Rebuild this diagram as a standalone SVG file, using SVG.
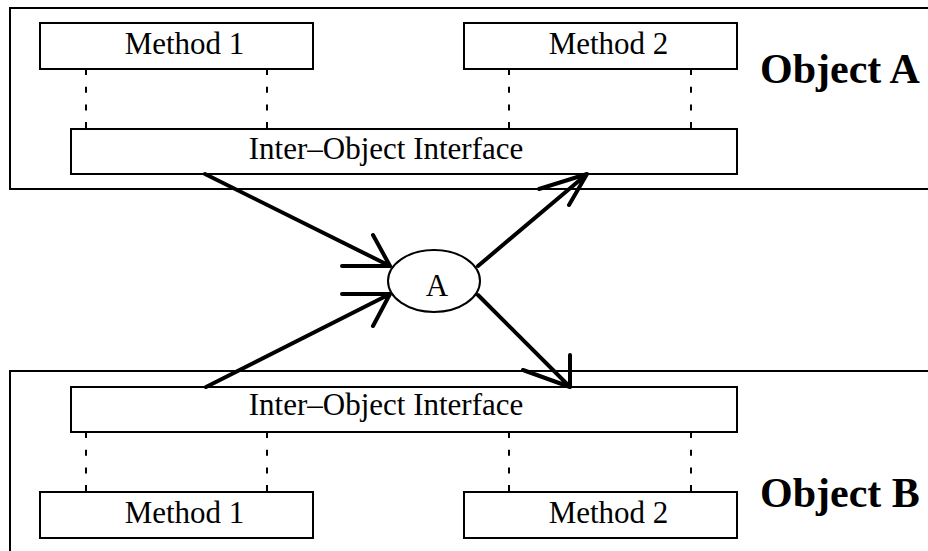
<svg xmlns="http://www.w3.org/2000/svg" width="928" height="551" viewBox="0 0 928 551">
<style>
.box{fill:#fff;stroke:#000;stroke-width:2}
.outer{fill:none;stroke:#000;stroke-width:2}
.dash{stroke:#000;stroke-width:2;stroke-dasharray:6 11.7;fill:none}
.lbl{font-family:"Liberation Serif","Times New Roman",serif;font-size:31px;fill:#000;text-anchor:middle}
.big{font-family:"Liberation Serif","Times New Roman",serif;font-size:42px;font-weight:bold;fill:#000}
.arr{stroke:#000;stroke-width:4;fill:none;stroke-linecap:round;stroke-linejoin:round}
</style>
<rect width="928" height="551" fill="#fff"/>
<g id="objectA">
<rect class="outer" x="10" y="8" width="930" height="181"/>
<text class="big" x="760" y="83">Object A</text>
</g>
<g id="objectB">
<rect class="outer" x="10" y="371" width="930" height="200"/>
<text class="big" x="760" y="507">Object B</text>
</g>
<g id="methodA1">
<rect class="box" x="40" y="23" width="273" height="46"/>
<text class="lbl" x="184.5" y="54">Method 1</text>
</g>
<g id="methodA2">
<rect class="box" x="464" y="23" width="273" height="46"/>
<text class="lbl" x="608.5" y="54">Method 2</text>
</g>
<g id="interfaceA">
<rect class="box" x="71" y="129" width="666" height="45"/>
<text class="lbl" x="386" y="159">Inter–Object Interface</text>
</g>
<g id="interfaceB">
<rect class="box" x="71" y="387" width="666" height="45"/>
<text class="lbl" x="386" y="415">Inter–Object Interface</text>
</g>
<g id="methodB1">
<rect class="box" x="40" y="492" width="273" height="46"/>
<text class="lbl" x="184.5" y="523">Method 1</text>
</g>
<g id="methodB2">
<rect class="box" x="464" y="492" width="273" height="46"/>
<text class="lbl" x="608.5" y="523">Method 2</text>
</g>
<g id="nodeA">
<ellipse cx="434" cy="281" rx="46" ry="31" fill="#fff" stroke="#000" stroke-width="2"/>
<text class="lbl" x="437" y="296">A</text>
</g>
<g id="connectors">
<path class="dash" d="M86 69V129M267 69V129M509 69V129M691 69V129"/>
<path class="dash" d="M86 432V492M267 432V492M509 432V492M691 432V492"/>
<path class="arr" d="M205 174L390 266M342 266L390 266L373 235"/>
<path class="arr" d="M206 387L390 294M342 294L390 294L373 326"/>
<path class="arr" d="M478 266L587 174M539 189L587 174L569 205"/>
<path class="arr" d="M478 295L570 387M570 355L570 387L523 370"/>
</g>
</svg>
